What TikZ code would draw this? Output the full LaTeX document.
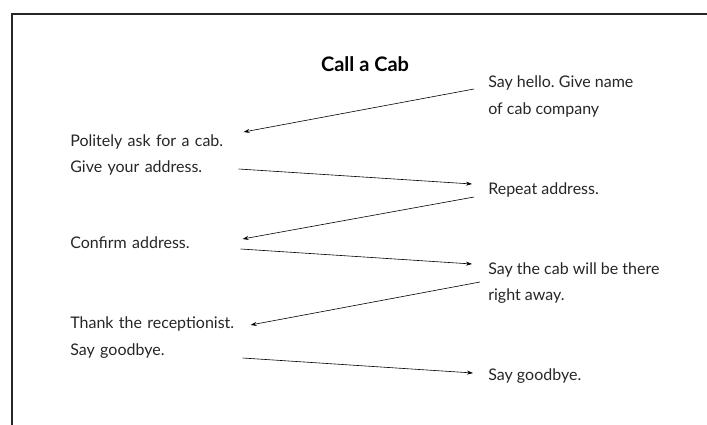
\documentclass[tikz,border=0pt]{standalone}
\usepackage{fontspec}
\setmainfont{Lato}
\usetikzlibrary{arrows.meta}
\frenchspacing

\begin{document}
\begin{tikzpicture}[x=1pt, y=-1pt, line width=0.6pt,
    every node/.style={font=\fontsize{16}{26.5}\selectfont, text=black!85},
    caller/.style={anchor=west, align=left, text width=168pt, inner xsep=1pt, inner ysep=0pt},
    desk/.style={anchor=west, align=left, inner xsep=14pt, inner ysep=0pt},
    talk/.style={-{Stealth[length=6pt, width=4pt]}, line width=0.6pt}]
  \useasboundingbox (0,0) rectangle (707,425);
  \draw[line width=2.5pt, black!85] (12,425) -- (12,14) -- (707,14);

  \node[font=\fontsize{20}{24}\selectfont\bfseries, text=black] (title) at (365,64) {Call a Cab};

  \node[desk] (hello) at (474,96.5) {Say hello. Give name\\of cab company};
  \node[caller] (ask) at (69,155) {Politely ask for a cab.\\Give your address.};
  \node[desk] (repeat) at (474,190) {Repeat address.};
  \node[caller] (confirm) at (69,243) {Confirm address.};
  \node[desk] (cabthere) at (474,283) {Say the cab will be there\\right away.};
  \node[caller] (thank) at (69,337.5) {Thank the receptionist.\\Say goodbye.};
  \node[desk] (bye) at (474,376) {Say goodbye.};

  \draw[talk] ([yshift=7.5pt]hello.west) -- ([xshift=4pt,yshift=23pt]ask.east);
  \draw[talk] ([xshift=-1pt,yshift=-14pt]ask.east) -- ([xshift=-2pt,yshift=6pt]repeat.west);
  \draw[talk] ([yshift=-7pt]repeat.west) -- ([xshift=3pt,yshift=4pt]confirm.east);
  \draw[talk] ([xshift=1pt,yshift=-6pt]confirm.east) -- ([xshift=-2pt,yshift=19pt]cabthere.west);
  \draw[talk] ([xshift=6pt,yshift=1pt]cabthere.west) -- ([xshift=11pt,yshift=12.5pt]thank.east);
  \draw[talk] ([xshift=3pt,yshift=-20.5pt]thank.east) -- ([xshift=-1pt,yshift=3pt]bye.west);
\end{tikzpicture}
\end{document}
